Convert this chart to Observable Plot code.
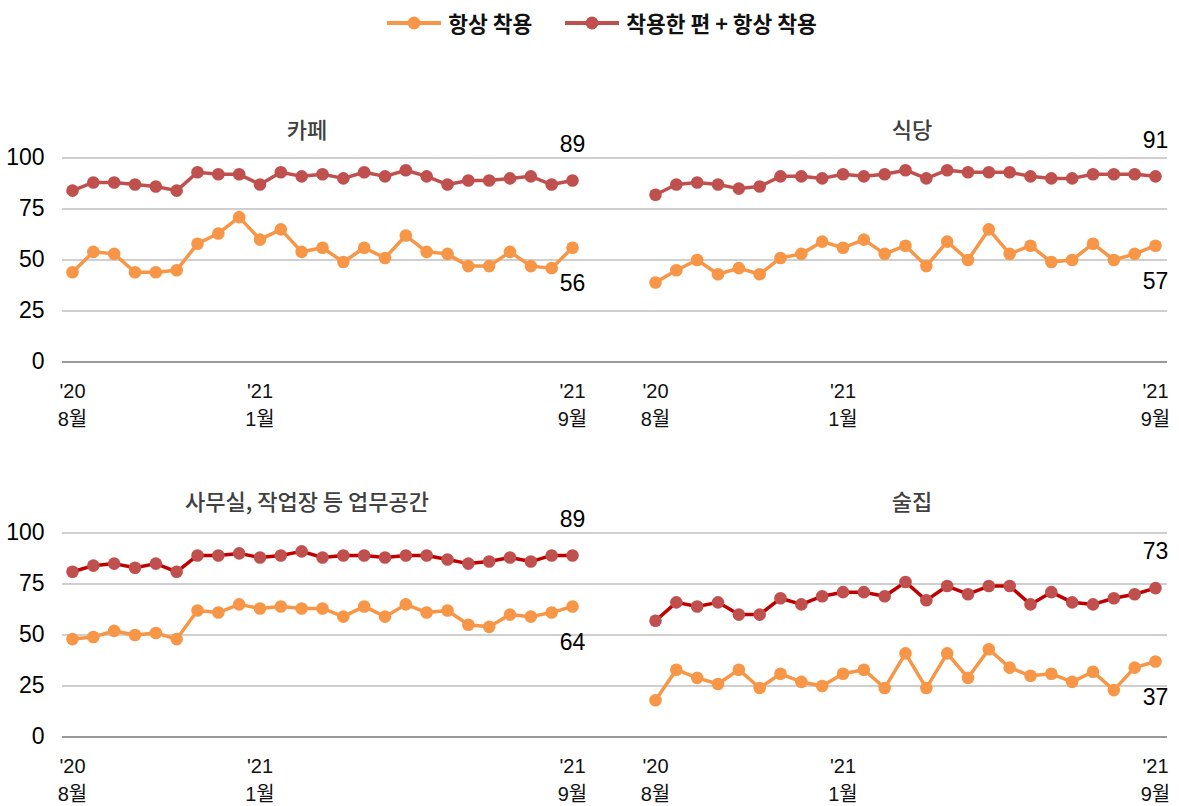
<!DOCTYPE html>
<html>
<head>
<meta charset="utf-8">
<script src="https://cdn.jsdelivr.net/npm/d3@7"></script>
<script src="https://cdn.jsdelivr.net/npm/@observablehq/plot@0.6"></script>
<style>
  body { margin: 0; background: #fff; }
  #root { position: relative; width: 1179px; height: 806px; overflow: hidden;
          font-family: 'Liberation Sans', Arial, 'Noto Sans CJK KR', sans-serif; }
  .panel { position: absolute; }
  .title { position: absolute; transform: translate(-50%, -50%); font-size: 22px; color: #404040;
           font-family: 'Noto Sans CJK KR', sans-serif; font-weight: 500; white-space: nowrap; }
  #legend { position: absolute; top: 7px; left: 12px; width: 1179px; display: flex; justify-content: center;
            align-items: center; font-family: 'Noto Sans CJK KR', sans-serif; font-weight: 700; font-size: 21.5px; color: #111; }
  .item { display: flex; align-items: center; margin: 0 16px; }
  .item svg { margin-right: 6px; }
</style>
</head>
<body>
<div id="root">
  <div id="legend"></div>
</div>
<script>
// ---- data ----
const seriesNames = ["항상 착용", "착용한 편 + 항상 착용"];
const panelTitles = ["카페", "식당", "사무실, 작업장 등 업무공간", "술집"];
const tickIndex = [0, 9, 24];
const tickLabels = ["'20\n8월", "'21\n1월", "'21\n9월"];
const yTicks = [0, 25, 50, 75, 100];

const cafeAlways   = [44,54,53,44,44,45,58,63,71,60,65,54,56,49,56,51,62,54,53,47,47,54,47,46,56];
const cafeMostly   = [84,88,88,87,86,84,93,92,92,87,93,91,92,90,93,91,94,91,87,89,89,90,91,87,89];
const restAlways   = [39,45,50,43,46,43,51,53,59,56,60,53,57,47,59,50,65,53,57,49,50,58,50,53,57];
const restMostly   = [82,87,88,87,85,86,91,91,90,92,91,92,94,90,94,93,93,93,91,90,90,92,92,92,91];
const officeAlways = [48,49,52,50,51,48,62,61,65,63,64,63,63,59,64,59,65,61,62,55,54,60,59,61,64];
const officeMostly = [81,84,85,83,85,81,89,89,90,88,89,91,88,89,89,88,89,89,87,85,86,88,86,89,89];
const barAlways    = [18,33,29,26,33,24,31,27,25,31,33,24,41,24,41,29,43,34,30,31,27,32,23,34,37];
const barMostly    = [57,66,64,66,60,60,68,65,69,71,71,69,76,67,74,70,74,74,65,71,66,65,68,70,73];

const orange = "#f79646";
const redMarker = "#c0504d";

const root = document.getElementById("root");

// legend
const legend = document.getElementById("legend");
[[seriesNames[0], orange, orange], [seriesNames[1], redMarker, redMarker]].forEach(([name, lc, mc]) => {
  const it = document.createElement("div");
  it.className = "item";
  it.innerHTML = `<svg width="56" height="20"><line x1="1" x2="55" y1="10" y2="10" stroke="${lc}" stroke-width="4"/><circle cx="28" cy="10" r="6.5" fill="${mc}"/></svg><span>${name}</span>`;
  legend.appendChild(it);
});

function panel({always, mostly, title, left, top, width, height, mLeft, mRight, mTop, mBottom, xr, showY, redLine, titleX, titleY}) {
  const idx = (d, i) => i;
  const val = d => d;
  const marks = [
    Plot.ruleY(yTicks.filter(t => t > 0), {stroke: "#cfcfcf", strokeWidth: 2}),
    Plot.ruleY([0], {stroke: "#9a9a9a", strokeWidth: 2}),
    Plot.axisX({ticks: tickIndex, tickFormat: d => tickLabels[tickIndex.indexOf(d)], tickSize: 0,
                tickPadding: 16, fontSize: 20, lineHeight: 1.4, fill: "#111"}),
    Plot.line(mostly, {x: idx, y: val, stroke: redLine, strokeWidth: 3.5}),
    Plot.dot(mostly, {x: idx, y: val, r: 6.3, fill: redMarker}),
    Plot.line(always, {x: idx, y: val, stroke: orange, strokeWidth: 3.5}),
    Plot.dot(always, {x: idx, y: val, r: 6.3, fill: orange}),
    Plot.text(mostly, Plot.selectLast({x: idx, y: val, text: d => String(d), dy: -36, fontSize: 23, fill: "#000"})),
    Plot.text(always, Plot.selectLast({x: idx, y: val, text: d => String(d), dy: 36, fontSize: 23, fill: "#000"}))
  ];
  if (showY) marks.push(Plot.axisY({ticks: yTicks, tickSize: 0, tickPadding: 18, fontSize: 23, fill: "#000"}));
  const p = Plot.plot({
    width, height,
    marginLeft: mLeft, marginRight: mRight, marginTop: mTop, marginBottom: mBottom,
    x: {type: "linear", domain: [0, 24], range: xr, axis: null},
    y: {domain: [0, 100], axis: null},
    style: {fontFamily: "'Liberation Sans', Arial, 'Noto Sans CJK KR', sans-serif", background: "transparent", overflow: "visible"},
    marks
  });
  p.classList.add("panel");
  p.style.left = left + "px";
  p.style.top = top + "px";
  root.appendChild(p);
  const t = document.createElement("div");
  t.className = "title";
  t.textContent = title;
  t.style.left = titleX + "px";
  t.style.top = titleY + "px";
  root.appendChild(t);
}

// top-left: cafe
panel({always: cafeAlways, mostly: cafeMostly, title: panelTitles[0], left: 0, top: 100, width: 590, height: 340,
       mLeft: 62, mRight: 0, mTop: 57.5, mBottom: 78.5, xr: [72, 572], showY: true, redLine: redMarker,
       titleX: 307, titleY: 128});
// top-right: restaurant
panel({always: restAlways, mostly: restMostly, title: panelTitles[1], left: 590, top: 100, width: 589, height: 340,
       mLeft: 0, mRight: 12, mTop: 57.5, mBottom: 78.5, xr: [65, 565], showY: false, redLine: redMarker,
       titleX: 912, titleY: 128});
// bottom-left: office
panel({always: officeAlways, mostly: officeMostly, title: panelTitles[2], left: 0, top: 470, width: 590, height: 336,
       mLeft: 62, mRight: 0, mTop: 62.5, mBottom: 69.5, xr: [72, 572], showY: true, redLine: "#c00000",
       titleX: 307, titleY: 500});
// bottom-right: bar
panel({always: barAlways, mostly: barMostly, title: panelTitles[3], left: 590, top: 470, width: 589, height: 336,
       mLeft: 0, mRight: 12, mTop: 62.5, mBottom: 69.5, xr: [65, 565], showY: false, redLine: "#c00000",
       titleX: 912, titleY: 500});
</script>
</body>
</html>
